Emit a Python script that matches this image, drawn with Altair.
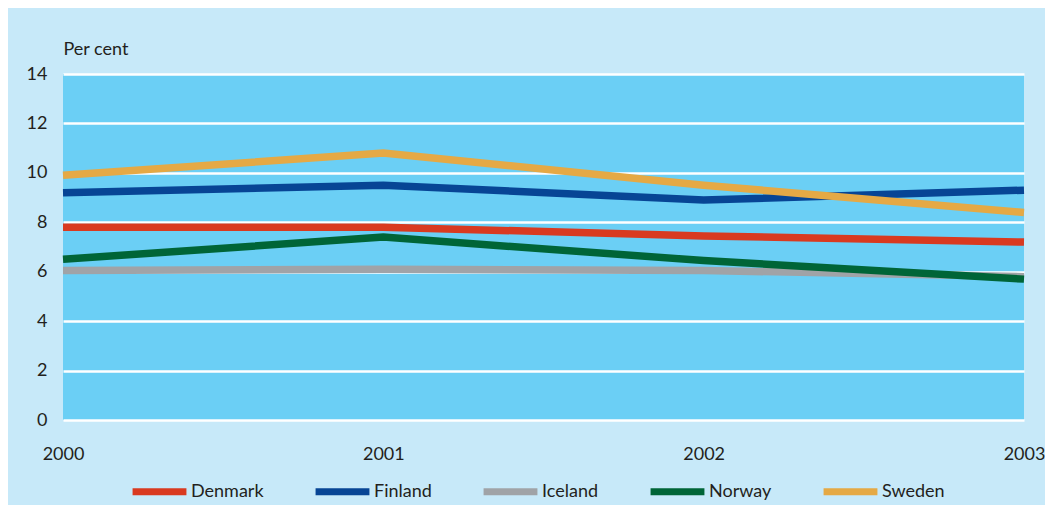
import altair as alt
import pandas as pd

years = [2000, 2001, 2002, 2003]
countries = ["Denmark", "Finland", "Iceland", "Norway", "Sweden"]
denmark = [7.8, 7.8, 7.45, 7.2]
finland = [9.2, 9.5, 8.9, 9.3]
iceland = [6.05, 6.1, 6.05, 5.8]
norway = [6.5, 7.4, 6.45, 5.7]
sweden = [9.9, 10.8, 9.5, 8.4]
colors = ["#D93A20", "#074595", "#A0A3A7", "#006537", "#E5A945"]
y_ticks = [0, 2, 4, 6, 8, 10, 12, 14]

series = [denmark, finland, iceland, norway, sweden]
rows = []
for c, vals in zip(countries, series):
    for yr, v in zip(years, vals):
        rows.append({"year": yr, "country": c, "value": v})
df = pd.DataFrame(rows)

FONT = "Lato"
TXT = "#231F20"

chart = alt.Chart(df).mark_line(strokeWidth=7.5, strokeCap="butt").encode(
    x=alt.X("year:Q", scale=alt.Scale(domain=[2000, 2003], nice=False, zero=False),
            axis=alt.Axis(values=years, format="d", title=None, grid=False, ticks=False,
                          domain=False, labelPadding=25, labelFontSize=18, labelFont=FONT,
                          labelColor=TXT, labelFlush=False)),
    y=alt.Y("value:Q", scale=alt.Scale(domain=[0, 14], nice=False),
            axis=alt.Axis(values=y_ticks, title="Per cent", titleAngle=0, titleX=0, titleY=-20,
                          titleAlign="left", titleBaseline="alphabetic", titleFont=FONT,
                          titleFontSize=18, titleFontWeight="normal", titleColor=TXT,
                          grid=True, gridColor="white", gridWidth=2.5, gridOpacity=1,
                          ticks=False, domain=False, labelPadding=16, labelFontSize=18,
                          labelFont=FONT, labelColor=TXT)),
    color=alt.Color("country:N", scale=alt.Scale(domain=countries, range=colors),
                    legend=alt.Legend(orient="none", direction="horizontal", title=None,
                                      legendX=66, legendY=387, symbolType="stroke",
                                      symbolSize=2900, symbolStrokeWidth=7,
                                      labelFontSize=18, labelFont=FONT, labelColor=TXT,
                                      labelOffset=1, columnPadding=37)),
).properties(
    width=961, height=346,
    autosize=alt.AutoSizeParams(type="none"),
    padding={"left": 55, "top": 66, "right": 21, "bottom": 85},
    background="#C7E9F9",
).configure_view(fill="#6BCFF5", stroke=None)

chart.save("out.html", embed_options={"renderer": "svg", "actions": False})
